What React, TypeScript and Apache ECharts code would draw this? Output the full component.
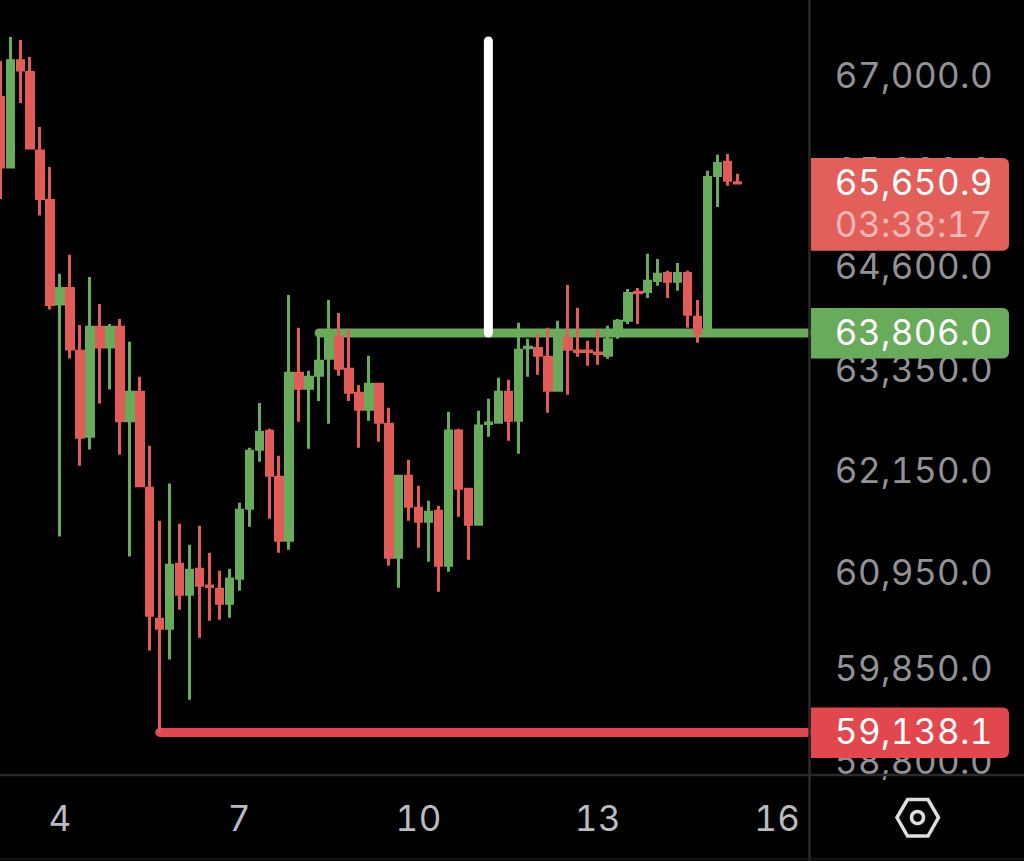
import React, { useEffect, useRef } from "react";
import * as echarts from "echarts";

const GREEN = "#68AC5B";
const RED = "#E15C57";
const LOW_RED = "#E2474E";
const GRAY = "#BABAC2";
const RULE = "#2A2A2A";
const FONT = "Inter";

const opens = [66729, 65853, 67196, 67047, 66053, 65435, 64157, 64349, 63583, 62564,
  63874, 63637, 63874, 62749, 63089, 61949, 60425, 60322, 61060, 60713,
  61003, 60807, 60771, 60609, 60898, 61714, 62409, 62624, 62079, 61339,
  63318, 63137, 63294, 63499, 63753, 63366, 63077, 62886, 63186, 62707,
  61141, 62090, 61714, 61561, 61678, 61049, 62628, 61937, 61526, 62717,
  62731, 63089, 62755, 63628, 63619, 63511, 63113, 63741, 63586, 63586,
  63562, 63535, 63777, 63959, 64302, 64312, 64447, 64533, 64435, 64533,
  63996, 63825, 65747, 65910, 65656];
const closes = [65853, 67196, 67079, 66091, 65460, 64153, 64349, 63613, 62552, 63874,
  63637, 63874, 62749, 63089, 61978, 60471, 60322, 61049, 60713, 60991,
  60817, 60801, 60609, 60888, 61690, 62385, 62612, 62102, 61339, 63318,
  63137, 63270, 63463, 63801, 63378, 63089, 62886, 63186, 62731, 61141,
  62090, 61737, 61561, 61667, 61049, 62628, 61949, 61526, 62687, 62723,
  63089, 62755, 63595, 63634, 63535, 63113, 63825, 63607, 63580, 63580,
  63556, 63723, 63947, 64287, 64296, 64435, 64521, 64435, 64533, 64032,
  63801, 65722, 65897, 65685, 65650.9];
const lows = [65453, 65853, 66659, 66091, 65247, 64090, 61384, 63496, 62214, 62407,
  62955, 63123, 62344, 61150, 61978, 60067, 59138.1, 59965, 60534, 59507,
  60213, 60408, 60419, 60442, 60753, 61497, 62261, 61591, 61193, 61228,
  62737, 62415, 62987, 62713, 63288, 62987, 62427, 62749, 62498, 61043,
  60788, 61567, 61251, 61089, 60742, 60973, 61614, 61112, 61526, 62558,
  62731, 62510, 62356, 63276, 63300, 62844, 63113, 63059, 63517, 63408,
  63420, 63493, 63735, 63916, 63916, 64232, 64380, 64232, 64319, 63868,
  63686, 63825, 65354, 65616, 65640];
const highs = [67194, 67501, 67463, 67245, 66356, 65853, 64527, 64761, 63904, 64490,
  64159, 63916, 63977, 63698, 63276, 62451, 61567, 62004, 61532, 61286,
  61509, 61193, 60985, 61008, 61778, 62427, 62963, 62653, 62332, 64269,
  63868, 63348, 63844, 64208, 64050, 63856, 63178, 63529, 63202, 62904,
  62108, 62285, 61978, 61801, 61743, 62856, 62653, 61954, 62868, 63011,
  63264, 63240, 63929, 63735, 63795, 63868, 63953, 64392, 64111, 63710,
  63844, 63892, 63977, 64341, 64353, 64773, 64711, 64564, 64662, 64564,
  64208, 65804, 66004, 66016, 65766];

const dayLabels = ["4", "7", "10", "13", "16"];
const dayLabelIndex = [6, 24, 42, 60, 78];
const priceTicks = [67000, 65800, 64600, 63350, 62150, 60950, 59850, 58800];

const resistance = 63806;
const support = 59138.1;
const resistanceStart = 32;
const supportStart = 16;
const lastCategory = 81;
const markerCategory = 49;
const markerTop = 67450;

const Y_MIN = 58661;
const Y_MAX = 67977;

const fmt = (v: number) =>
  v.toLocaleString("en-US", { minimumFractionDigits: 1, maximumFractionDigits: 1 });

const categories = Array.from({ length: lastCategory + 1 }, (_, i) => {
  const k = dayLabelIndex.indexOf(i);
  return k >= 0 ? dayLabels[k] : "";
});

const tags = [
  { price: 65650.9, color: "#E25F5A", countdown: "03:38:17" },
  { price: resistance, color: "#68AC5B", countdown: "" },
  { price: support, color: LOW_RED, countdown: "" },
];

export default function App() {
  const ref = useRef<HTMLDivElement>(null);
  useEffect(() => {
    document.body.style.margin = "0";
    document.body.style.background = "#000";
    const chart = echarts.init(ref.current!, undefined, { renderer: "svg" });
    const hideLine = { show: false };
    chart.setOption({
      animation: false,
      backgroundColor: "#000",
      grid: [
        { left: -4.64, top: 0, width: 816.72, height: 775, outerBoundsMode: "none" },
        { left: 811, top: 0, width: 213, height: 775, outerBoundsMode: "none" },
      ],
      xAxis: [
        {
          type: "category",
          gridIndex: 0,
          data: categories,
          boundaryGap: true,
          axisLine: hideLine,
          axisTick: hideLine,
          splitLine: hideLine,
          axisLabel: {
            interval: (i: number) => dayLabelIndex.includes(i),
            color: GRAY,
            fontFamily: FONT,
            fontSize: 35,
            margin: 25,
          },
        },
        { type: "value", gridIndex: 1, min: 0, max: 1, show: false },
      ],
      yAxis: [
        { type: "log", gridIndex: 0, min: Y_MIN, max: Y_MAX, show: false },
        { type: "log", gridIndex: 1, min: Y_MIN, max: Y_MAX, show: false },
      ],
      series: [
        {
          type: "line",
          name: "support",
          z: 1,
          showSymbol: false,
          symbol: "none",
          data: [[supportStart, support], [lastCategory, support]],
          lineStyle: { color: LOW_RED, width: 9, cap: "round" },
        },
        {
          type: "line",
          name: "resistance",
          z: 1,
          showSymbol: false,
          symbol: "none",
          data: [[resistanceStart, resistance], [lastCategory, resistance]],
          lineStyle: { color: GREEN, width: 9, cap: "round" },
        },
        {
          type: "line",
          name: "marker",
          z: 1,
          showSymbol: false,
          symbol: "none",
          data: [[markerCategory, markerTop], [markerCategory, resistance]],
          lineStyle: { color: "#FFFFFF", width: 9, cap: "round" },
        },
        {
          type: "candlestick",
          z: 3,
          barWidth: 7,
          data: opens.map((o, i) => [o, closes[i], lows[i], highs[i]]),
          itemStyle: {
            color: GREEN,
            color0: RED,
            borderColor: GREEN,
            borderColor0: RED,
            borderWidth: 3,
          },
        },
        {
          type: "scatter",
          xAxisIndex: 1,
          yAxisIndex: 1,
          z: 2,
          symbolSize: 0,
          silent: true,
          data: priceTicks.map((p) => [0.483, p]),
          label: {
            show: true,
            position: "inside",
            align: "center",
            verticalAlign: "middle",
            offset: [0, -1.5],
            color: GRAY,
            fontFamily: FONT,
            fontSize: 35,
            formatter: (p: any) => fmt(p.value[1]),
          },
        },
        {
          type: "custom",
          xAxisIndex: 1,
          yAxisIndex: 1,
          z: 6,
          silent: true,
          clip: false,
          data: tags.map((t) => [0, t.price]),
          renderItem: (params: any, api: any) => {
            const t = tags[params.dataIndex];
            const c = api.coord([0, api.value(1)]);
            const labelX = api.coord([0.483, api.value(1)])[0];
            const top = c[1] - 25;
            const h = t.countdown ? 92.7 : 50.5;
            const children: any[] = [
              {
                type: "rect",
                shape: { x: c[0], y: top, width: 198, height: h, r: [0, 6, 6, 0] },
                style: { fill: t.color },
              },
              {
                type: "text",
                style: {
                  x: labelX,
                  y: c[1] - 1,
                  text: fmt(t.price),
                  fill: "#FFFFFF",
                  fontSize: 35,
                  fontFamily: FONT,
                  textAlign: "center",
                  textVerticalAlign: "middle",
                },
              },
            ];
            if (t.countdown) {
              children.push({
                type: "text",
                style: {
                  x: labelX,
                  y: c[1] + 40.5,
                  text: t.countdown,
                  fill: "#F6B9B5",
                  fontSize: 35,
                  fontFamily: FONT,
                  textAlign: "center",
                  textVerticalAlign: "middle",
                },
              });
            }
            return { type: "group", children };
          },
        },
      ],
      graphic: [
        { type: "line", z: 50, shape: { x1: 0, y1: 775, x2: 1024, y2: 775 }, style: { stroke: RULE, lineWidth: 2.5 } },
        { type: "line", z: 50, shape: { x1: 809.5, y1: 0, x2: 809.5, y2: 861 }, style: { stroke: RULE, lineWidth: 2.5 } },
        { type: "line", z: 50, shape: { x1: 0, y1: 859, x2: 1024, y2: 859 }, style: { stroke: "#1C1C1C", lineWidth: 1.5 } },
        {
          type: "polygon",
          z: 50,
          shape: { points: [[897, 817.5], [907.5, 799.5], [928, 799.5], [938.5, 817.5], [928, 836], [907.5, 836]] },
          style: { fill: "none", stroke: "#DEDEDE", lineWidth: 3.5 },
        },
        {
          type: "circle",
          z: 50,
          shape: { cx: 917.5, cy: 817.5, r: 6 },
          style: { fill: "none", stroke: "#DEDEDE", lineWidth: 3.5 },
        },
      ],
    });
    return () => chart.dispose();
  }, []);
  return (
    <div
      ref={ref}
      style={{
        position: "absolute",
        left: 0,
        top: 0,
        width: 1024,
        height: 861,
        letterSpacing: "0.4px",
        fontVariantNumeric: "tabular-nums",
        fontFeatureSettings: '"tnum"',
      }}
    />
  );
}
